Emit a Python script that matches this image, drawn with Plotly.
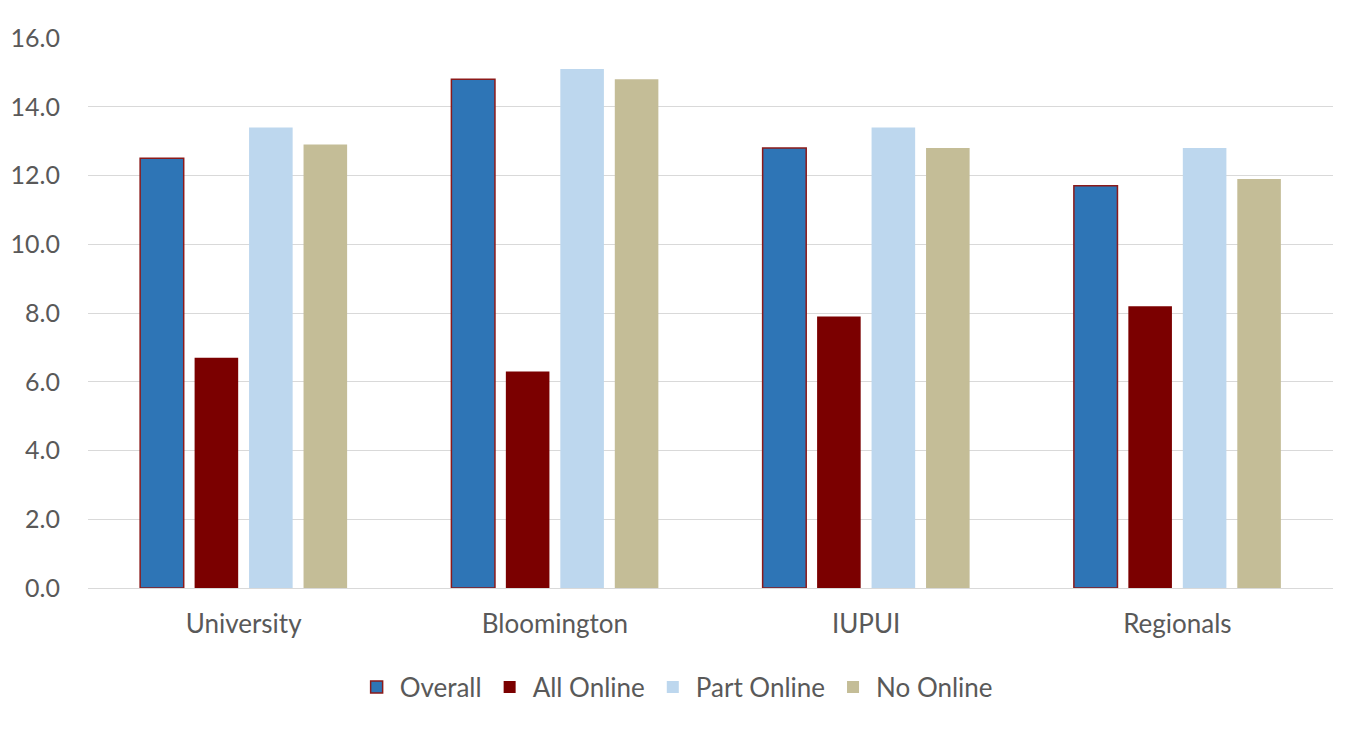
import plotly.graph_objects as go

categories = ["University", "Bloomington", "IUPUI", "Regionals"]
overall = [12.5, 14.8, 12.8, 11.7]
all_online = [6.7, 6.3, 7.9, 8.2]
part_online = [13.4, 15.1, 13.4, 12.8]
no_online = [12.9, 14.8, 12.8, 11.9]

series = [
    ("Overall", overall, "#2E75B6", "#8B1A1A", 1.5),
    ("All Online", all_online, "#7B0000", "#7B0000", 0),
    ("Part Online", part_online, "#BDD7EE", "#BDD7EE", 0),
    ("No Online", no_online, "#C4BD97", "#C4BD97", 0),
]

fig = go.Figure()
for name, vals, color, line_color, lw in series:
    fig.add_trace(go.Bar(
        name=name, x=categories, y=vals,
        marker=dict(color=color, line=dict(color=line_color, width=lw)),
    ))

fig.update_layout(
    width=1352, height=731,
    barmode="group", bargap=0.3, bargroupgap=0.2,
    plot_bgcolor="white", paper_bgcolor="white",
    margin=dict(l=80, r=27, t=30, b=151, autoexpand=False),
    font=dict(family="Lato, Open Sans, sans-serif", size=25, color="#595959"),
    legend=dict(orientation="h", x=0.472, xanchor="center", y=-0.18, yanchor="middle",
                font=dict(size=26, color="#595959"), itemwidth=36, traceorder="normal"),
    xaxis=dict(showgrid=False, showline=True, linecolor="#D9D9D9", linewidth=1,
               ticks="outside", ticklen=13, tickcolor="rgba(0,0,0,0)",
               tickfont=dict(size=26), automargin=False),
    yaxis=dict(range=[0, 16], dtick=2, tickformat=".1f", showgrid=True,
               gridcolor="#D9D9D9", gridwidth=1, zeroline=False, showline=False,
               ticks="outside", ticklen=22, tickcolor="rgba(0,0,0,0)",
               tickfont=dict(size=25), automargin=False),
)

fig.write_html("out.html")
